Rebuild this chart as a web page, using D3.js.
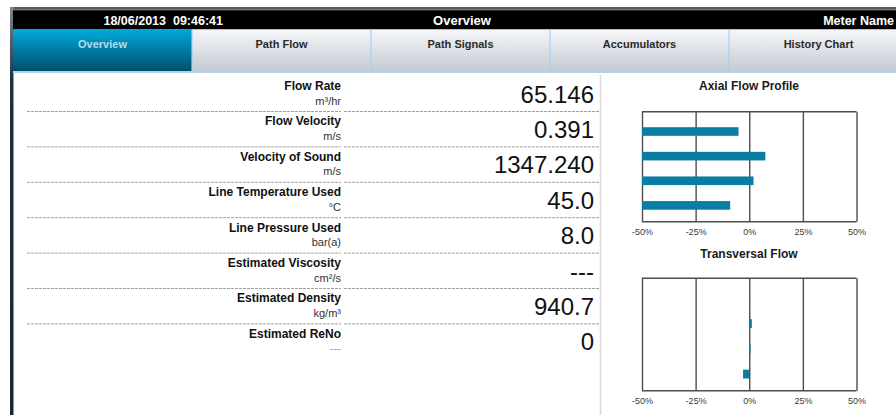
<!DOCTYPE html>
<html><head><meta charset="utf-8">
<script src="https://cdn.jsdelivr.net/npm/d3@7"></script>
<style>
html,body{margin:0;padding:0;background:#fff;overflow:hidden}
text{font-family:"Liberation Sans",Arial,sans-serif}
</style></head>
<body>
<svg id="c" width="896" height="415"></svg>
<script>
const headerDate = "18/06/2013\u00a0\u00a009:46:41";
const headerTitle = "Overview";
const headerMeter = "Meter Name";
const tabs = ["Overview","Path Flow","Path Signals","Accumulators","History Chart"];
const activeTab = "Overview";
const labels = ["Flow Rate","Flow Velocity","Velocity of Sound","Line Temperature Used","Line Pressure Used","Estimated Viscosity","Estimated Density","Estimated ReNo"];
const units = ["m³/hr","m/s","m/s","°C","bar(a)","cm²/s","kg/m³","---"];
const values = ["65.146","0.391","1347.240","45.0","8.0","---","940.7","0"];
const paths = ["Path 1","Path 2","Path 3","Path 4"];
const axialValues = [-5.0, 7.5, 2.0, -8.9];
const transversalValues = [0.2, 1.2, 0.6, -2.9];
const tickValues = [-50,-25,0,25,50];
const tickLabels = ["-50%","-25%","0%","25%","50%"];

const svg = d3.select("#c");
const defs = svg.append("defs");
const gA = defs.append("linearGradient").attr("id","gActive").attr("x1",0).attr("y1",0).attr("x2",0).attr("y2",1);
gA.append("stop").attr("offset","0%").attr("stop-color","#00a9db");
gA.append("stop").attr("offset","100%").attr("stop-color","#004e6c");
const gI = defs.append("linearGradient").attr("id","gInactive").attr("x1",0).attr("y1",0).attr("x2",0).attr("y2",1);
gI.append("stop").attr("offset","0%").attr("stop-color","#f6f7f9");
gI.append("stop").attr("offset","100%").attr("stop-color","#c4c9d1");
const gL = defs.append("linearGradient").attr("id","gLeft").attr("x1",0).attr("y1",0).attr("x2",0).attr("y2",1);
gL.append("stop").attr("offset","0%").attr("stop-color","#7c8893");
gL.append("stop").attr("offset","18%").attr("stop-color","#1d3146");
gL.append("stop").attr("offset","100%").attr("stop-color","#16283a");

// frame
svg.append("rect").attr("x",10).attr("y",7).attr("width",886).attr("height",3).attr("fill","#5a5a5a");
svg.append("rect").attr("x",10).attr("y",7).attr("width",3.5).attr("height",408).attr("fill","url(#gLeft)");
// header bar
svg.append("rect").attr("x",13).attr("y",9.5).attr("width",883).attr("height",20).attr("fill","#000");
svg.append("line").attr("x1",13).attr("x2",896).attr("y1",9.8).attr("y2",9.8).attr("stroke","#8cc6e4").attr("stroke-width",0.8);
svg.append("text").attr("x",223).attr("y",25).attr("text-anchor","end").attr("fill","#fff")
  .attr("font-weight","bold").attr("font-size",12.5).attr("xml:space","preserve").text(headerDate);
svg.append("text").attr("x",462).attr("y",25).attr("text-anchor","middle").attr("fill","#fff")
  .attr("font-weight","bold").attr("font-size",13).text(headerTitle);
svg.append("text").attr("x",894).attr("y",25).attr("text-anchor","end").attr("fill","#fff")
  .attr("font-weight","bold").attr("font-size",12.5).text(headerMeter);

// tabs
const tabX = d3.scaleBand().domain(tabs).range([13, 908]);
const tg = svg.append("g");
tg.selectAll("rect").data(tabs).join("rect")
  .attr("x", d => tabX(d)).attr("y",29.5).attr("width", tabX.bandwidth()).attr("height",41.5)
  .attr("fill", d => d === activeTab ? "url(#gActive)" : "url(#gInactive)");
tg.selectAll("line").data(tabs.slice(1)).join("line")
  .attr("x1", d => tabX(d)).attr("x2", d => tabX(d)).attr("y1",29.5).attr("y2",71)
  .attr("stroke","#9fd3ee").attr("stroke-width",1.2);
tg.selectAll("text").data(tabs).join("text")
  .attr("x", d => tabX(d) + tabX.bandwidth()/2).attr("y",48).attr("text-anchor","middle")
  .attr("font-size",11).attr("font-weight","bold")
  .attr("fill", d => d === activeTab ? "#b4dcec" : "#2a2a2a").text(d => d);
svg.append("rect").attr("x",13).attr("y",71).attr("width",883).attr("height",2).attr("fill","#a8d8f0");

// right separator
svg.append("line").attr("x1",600.5).attr("x2",600.5).attr("y1",75).attr("y2",415).attr("stroke","#d8d8d8").attr("stroke-width",1.5);

// rows
const rowY = d3.scaleLinear().domain([0,1]).range([0,35.4]);
const rows = svg.append("g");
const rg = rows.selectAll("g").data(labels).join("g").attr("transform",(d,i)=>`translate(0,${rowY(i)})`);
rg.append("text").attr("x",341).attr("y",90).attr("text-anchor","end").attr("font-size",12)
  .attr("font-weight","bold").attr("fill","#111").text(d=>d);
rg.append("text").attr("x",341).attr("y",104.5).attr("text-anchor","end").attr("font-size",11)
  .attr("fill", (d,i)=> units[i]==="---" ? "#999" : "#333").text((d,i)=>units[i]);
rg.append("text").attr("x",594).attr("y",102.5).attr("text-anchor","end").attr("font-size",24)
  .attr("fill","#111").text((d,i)=>values[i]);
const seps = labels.slice(0, labels.length-1);
rows.selectAll("line.a").data(seps).join("line").attr("class","a")
  .attr("x1",27).attr("x2",341).attr("y1",(d,i)=>111.5+rowY(i)).attr("y2",(d,i)=>111.5+rowY(i))
  .attr("stroke","#a0a0a0").attr("stroke-width",1).attr("stroke-dasharray","3,1");
rows.selectAll("line.b").data(seps).join("line").attr("class","b")
  .attr("x1",344).attr("x2",600).attr("y1",(d,i)=>111.5+rowY(i)).attr("y2",(d,i)=>111.5+rowY(i))
  .attr("stroke","#a0a0a0").attr("stroke-width",1).attr("stroke-dasharray","3,1");

// charts
const x = d3.scaleLinear().domain([-50,50]).range([642,856.5]);
function chart(title, vals, top, bottom, titleY, fromMin){
  const g = svg.append("g");
  g.append("text").attr("x",749).attr("y",titleY).attr("text-anchor","middle")
    .attr("font-weight","bold").attr("font-size",12).attr("fill","#1a1a1a").text(title);
  const y = d3.scaleBand().domain(paths).range([top+7.5, bottom-4]).paddingInner(0.65).paddingOuter(0.325);
  g.append("rect").attr("x",x(-50)).attr("y",top).attr("width",x(50)-x(-50)).attr("height",bottom-top)
    .attr("fill","#fff");
  const ax = d3.axisBottom(x).tickValues(tickValues).tickSize(-(bottom-top)).tickFormat((d,i)=>tickLabels[i]);
  const a = g.append("g").attr("transform",`translate(0,${bottom})`).call(ax);
  a.select(".domain").remove();
  a.selectAll(".tick line").attr("stroke","#4d4d4d").attr("stroke-width",1.4);
  a.selectAll(".tick text").attr("font-size",9).attr("fill","#3a3a3a").attr("y",13.3).attr("dy",0)
    .attr("font-family","'Liberation Sans',Arial,sans-serif");
  g.append("line").attr("x1",x(-50)).attr("x2",x(50)).attr("y1",top).attr("y2",top).attr("stroke","#4d4d4d").attr("stroke-width",1.4);
  g.append("line").attr("x1",x(-50)).attr("x2",x(50)).attr("y1",bottom).attr("y2",bottom).attr("stroke","#4d4d4d").attr("stroke-width",1.4);
  g.selectAll("rect.bar").data(vals).join("rect").attr("class","bar")
    .attr("x",d=> fromMin ? x(-50) : Math.min(x(0),x(d)))
    .attr("width",d=> fromMin ? x(d)-x(-50) : Math.abs(x(d)-x(0)))
    .attr("y",(d,i)=>y(paths[i])).attr("height",y.bandwidth())
    .attr("fill","#0a7da4");
}
chart("Axial Flow Profile", axialValues, 111.7, 221.7, 90, true);
chart("Transversal Flow", transversalValues, 278.3, 390.7, 258, false);
</script>
</body></html>
